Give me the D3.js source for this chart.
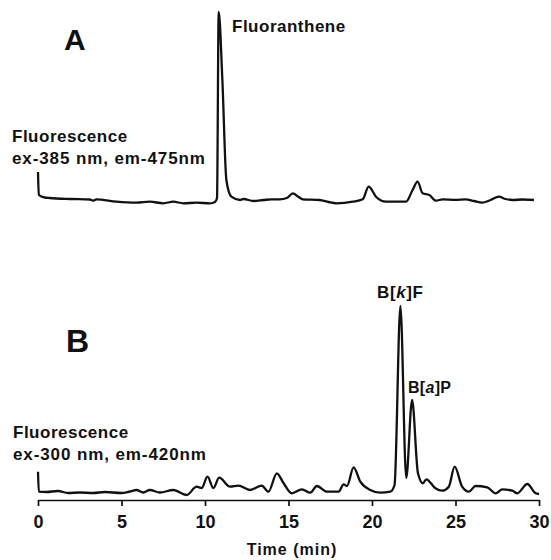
<!DOCTYPE html>
<html>
<head>
<meta charset="utf-8">
<script src="https://cdn.jsdelivr.net/npm/d3@7"></script>
<style>
  body { margin: 0; background: #fff; }
  svg { display: block; font-family: "Liberation Sans", Arial, Helvetica, sans-serif; }
  .label { font-weight: bold; fill: #111; }
  .trace { fill: none; stroke: #111; stroke-width: 2.3; stroke-linejoin: round; }
  .axis path, .axis line { stroke: #111; stroke-width: 1.7; }
  .axis text { font-size: 18px; font-weight: bold; fill: #111; font-family: "Liberation Sans", Arial, sans-serif; }
</style>
</head>
<body>
<svg id="chart"></svg>
<script>
// Time axis (min)
const timeTicks = [0, 5, 10, 15, 20, 25, 30];

// Trace A: fluorescence ex-385 nm, em-475 nm (relative signal)
const timeA = [0, 0.05, 0.4, 0.7, 1.9, 3.1, 3.3, 3.5, 4.7, 5.9, 6.7, 7.5, 8.1, 8.7, 9.5, 10.3, 10.6,
  10.72, 10.82, 11.04, 11.28, 11.58, 12.1, 12.3, 12.9, 13.5, 14.0, 14.47, 14.9, 15.26, 15.6, 15.86,
  16.86, 17.4, 17.85, 18.85, 19.44, 19.8, 20.24, 20.84, 22.04, 22.43, 22.73, 23.03, 23.43, 23.83,
  24.23, 25.0, 25.6, 26.1, 26.6, 27.1, 27.6, 28.0, 28.4, 29.0, 29.7];
const signalA = [32, 9, 6.5, 6, 5, 4.5, 3.3, 4.7, 2.3, 1.3, 2.3, 0.7, 2.3, 0.7, 1.3, 0.7, 2,
  6, 192, 124, 24, 7.3, 4, 5, 3, 4, 4.7, 4.7, 6, 10.7, 7, 4.7,
  4, 2, 0.7, 2.3, 4.7, 17.3, 7.3, 2.3, 2.3, 14, 22.3, 10.7, 9, 3.3,
  4.7, 4.2, 4.7, 3, 1.3, 4, 7.3, 5, 4, 4.5, 4];

// Trace B: fluorescence ex-300 nm, em-420 nm (relative signal)
const timeB = [0, 0.05, 0.5, 1.2, 1.8, 2.5, 3.3, 4.0, 5.0, 5.5, 5.9, 6.3, 6.7, 7.3, 8.1, 8.9, 9.5,
  9.8, 10.15, 10.5, 10.85, 11.5, 12.0, 12.7, 13.4, 13.8, 14.3, 14.7, 15.2, 15.8, 16.3, 16.7, 17.3,
  18.0, 18.3, 18.5, 18.9, 19.3, 19.9, 20.5, 21.1, 21.35, 21.7, 22.05, 22.4, 22.75, 23.05, 23.25,
  23.8, 24.2, 24.6, 24.95, 25.4, 25.8, 26.2, 26.9, 27.4, 27.8, 28.4, 28.7, 29.3, 29.8, 30.0];
const signalB = [23.3, 3.3, 3, 4, 2, 2.5, 2, 3, 2, 3.5, 5, 2.5, 5, 2.5, 5, 0, 8.3,
  7, 18.3, 7, 17.3, 8.3, 9.3, 5, 9.3, 3.3, 21.7, 12, 1.7, 5.7, 2.3, 9, 3.3,
  3.3, 10.7, 9, 27.7, 13.3, 5, 2.3, 3.3, 10, 189, 17, 95, 22, 11.7, 15.7,
  6.7, 4.3, 8.3, 28.3, 8.3, 3.3, 9, 7.7, 1.7, 5.7, 4.3, 1.7, 11, 1.7, 1];

const width = 551, height = 560;

const svg = d3.select('#chart')
  .attr('width', width)
  .attr('height', height);

// shared time scale
const xScale = d3.scaleLinear()
  .domain([0, 30])
  .range([38, 539]);

// each trace gets its own vertical scale
const yA = d3.scaleLinear().domain([0, 192]).range([204, 12]);
const yB = d3.scaleLinear().domain([0, 189]).range([495, 306]);

function drawTrace(times, values, yScale) {
  const pts = times.map((t, i) => ({t, v: values[i]}));
  const line = d3.line()
    .x(d => xScale(d.t))
    .y(d => yScale(d.v))
    .curve(d3.curveMonotoneX);
  svg.append('path')
    .datum(pts)
    .attr('class', 'trace')
    .attr('d', line);
}

drawTrace(timeA, signalA, yA);
drawTrace(timeB, signalB, yB);

// time axis under trace B
const xAxis = d3.axisBottom(xScale)
  .tickValues(timeTicks)
  .tickSize(6)
  .tickSizeOuter(0)
  .tickPadding(9);

svg.append('g')
  .attr('class', 'axis')
  .attr('transform', 'translate(0,500)')
  .call(xAxis);

svg.append('text')
  .attr('class', 'label')
  .attr('x', 292)
  .attr('y', 555)
  .attr('text-anchor', 'middle')
  .style('font-size', '16px')
  .style('letter-spacing', '1px')
  .text('Time (min)');

// panel letters
svg.append('text').attr('class', 'label')
  .attr('x', 64).attr('y', 50)
  .style('font-size', '30px')
  .text('A');
svg.append('text').attr('class', 'label')
  .attr('x', 66).attr('y', 352)
  .style('font-size', '32px')
  .text('B');

// detector labels
function detLabel(x, y, lines) {
  lines.forEach((s, i) => {
    svg.append('text').attr('class', 'label')
      .attr('x', x).attr('y', y + i * 22)
      .style('font-size', '17px')
      .style('letter-spacing', i === 0 ? '0.5px' : '0.9px')
      .text(s);
  });
}
detLabel(12, 141.5, ['Fluorescence', 'ex-385 nm, em-475nm']);
detLabel(13, 438, ['Fluorescence', 'ex-300 nm, em-420nm']);

// peak labels
svg.append('text').attr('class', 'label')
  .attr('x', 232).attr('y', 31.5)
  .style('font-size', '17px')
  .style('letter-spacing', '0.5px')
  .text('Fluoranthene');

const bkf = svg.append('text').attr('class', 'label')
  .attr('x', 377).attr('y', 298)
  .style('font-size', '17px')
  .style('letter-spacing', '0.6px');
bkf.append('tspan').text('B[');
bkf.append('tspan').style('font-style', 'italic').text('k');
bkf.append('tspan').text(']F');

const bap = svg.append('text').attr('class', 'label')
  .attr('x', 408).attr('y', 393)
  .style('font-size', '16px')
  .style('letter-spacing', '0.3px');
bap.append('tspan').text('B[');
bap.append('tspan').style('font-style', 'italic').text('a');
bap.append('tspan').text(']P');
</script>
</body>
</html>
